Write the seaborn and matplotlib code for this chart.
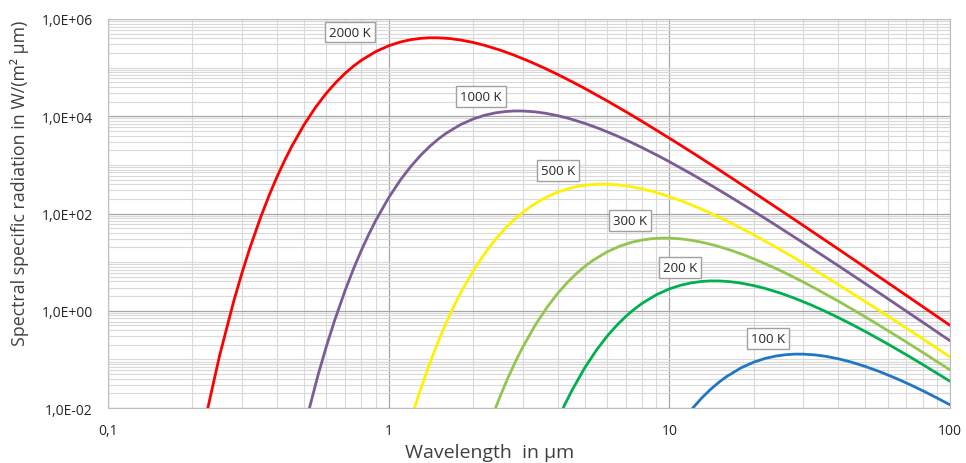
import matplotlib.pyplot as plt
import matplotlib.ticker as mticker
import pandas as pd
import seaborn as sns

# wavelength in µm and spectral exitance in W/(m² µm)
wl_2000 = [0.22, 0.25, 0.28, 0.3, 0.32, 0.35, 0.375, 0.4, 0.425, 0.45, 0.5, 0.55, 0.6, 0.65,
           0.7, 0.75, 0.8, 0.9, 1.0, 1.1, 1.2, 1.3, 1.4, 1.5, 1.65, 1.8, 2.0, 2.2, 2.5, 2.8,
           3.2, 3.6, 4, 4.5, 5, 6, 7, 8, 10, 12, 15, 20, 25, 30, 40, 50, 60, 70, 80, 100]
rad_2000 = [4.566e-3, 0.1219, 1.511, 5.931, 19.23, 84.35, 235.2, 564.9, 1202, 2313, 6753,
            15512, 29855, 50342, 76624, 107670, 142006, 214080, 281233, 336090, 375551,
            399720, 410530, 410540, 396030, 370720, 329495, 286850, 228452, 180330, 131660,
            97045, 72494, 51383, 37237, 20770, 12406, 7833, 3552.8, 1831, 800.7, 270.1,
            114.9, 56.82, 18.546, 7.738, 3.778, 2.057, 1.2136, 0.5017]

wl_1000 = [0.5, 0.56, 0.6, 0.64, 0.7, 0.75, 0.8, 0.85, 0.9, 1.0, 1.1, 1.2, 1.3, 1.4, 1.5,
           1.6, 1.8, 2.0, 2.2, 2.4, 2.6, 2.8, 3.0, 3.3, 3.6, 4.0, 4.4, 5.0, 5.6, 6.4, 7.2,
           8, 9, 10, 12, 14, 16, 20, 24, 30, 40, 50, 60, 80, 100]
rad_1000 = [3.809e-3, 0.04722, 0.1853, 0.6009, 2.636, 7.35, 17.65, 37.56, 72.28, 211.0,
            484.75, 933.0, 1573.2, 2394.5, 3364.7, 4437.7, 6690, 8788.5, 10503, 11736, 12491,
            12829, 12829, 12376, 11585, 10297, 8964, 7139, 5635, 4114, 3033, 2265, 1605.7,
            1163.7, 649.1, 387.7, 244.8, 111.0, 57.22, 25.02, 8.441, 3.591, 1.776, 0.5796,
            0.2418]

wl_500 = [1.2, 1.28, 1.4, 1.5, 1.6, 1.7, 1.8, 2.0, 2.2, 2.4, 2.6, 2.8, 3.0, 3.2, 3.6, 4.0,
          4.4, 4.8, 5.2, 5.6, 6.0, 6.6, 7.2, 8, 8.8, 10, 11.2, 12.8, 14.4, 16, 18, 20, 24,
          28, 32, 40, 48, 60, 80, 100]
rad_500 = [5.792e-3, 0.01878, 0.08237, 0.2297, 0.5517, 1.174, 2.259, 6.595, 15.15, 29.16,
           49.16, 74.83, 105.15, 138.68, 209.06, 274.6, 328.2, 366.75, 390.35, 400.91,
           400.92, 386.75, 362.03, 321.77, 280.13, 223.1, 176.1, 128.57, 94.77, 70.795,
           50.18, 36.36, 20.28, 12.115, 7.649, 3.4695, 1.788, 0.7819, 0.2638, 0.1122]

wl_300 = [2.333, 2.5, 2.667, 2.833, 3.0, 3.333, 3.667, 4.0, 4.333, 4.667, 5.0, 5.333, 6.0,
          6.667, 7.333, 8.0, 8.667, 9.333, 10.0, 11.0, 12.0, 13.33, 14.67, 16.67, 18.67,
          21.33, 24.0, 26.67, 30.0, 33.33, 40.0, 46.67, 53.33, 66.67, 80.0, 100]
rad_300 = [6.405e-3, 0.01786, 0.0429, 0.09128, 0.1756, 0.5128, 1.178, 2.2671, 3.8228, 5.8186,
           8.1762, 10.784, 16.257, 21.356, 25.522, 28.518, 30.354, 31.174, 31.175, 30.073,
           28.151, 25.021, 21.783, 17.348, 13.694, 9.998, 7.369, 5.505, 3.902, 2.8277,
           1.5772, 0.9421, 0.5948, 0.2698, 0.139, 0.0608]

wl_200 = [4, 4.25, 4.5, 5, 5.5, 6, 6.5, 7, 7.5, 8, 9, 10, 11, 12, 13, 14, 15, 16.5, 18, 20,
          22, 25, 28, 32, 36, 40, 45, 50, 60, 70, 80, 100]
rad_200 = [5.649e-3, 0.01202, 0.02313, 0.06753, 0.15512, 0.29855, 0.50342, 0.76624, 1.0767,
           1.42006, 2.1408, 2.81233, 3.3609, 3.75551, 3.9972, 4.1053, 4.1054, 3.9603, 3.7072,
           3.29495, 2.8685, 2.28452, 1.8033, 1.3166, 0.97045, 0.72494, 0.51383, 0.37237,
           0.2077, 0.12406, 0.07833, 0.035528]

wl_100 = [12, 13, 14, 15, 16, 18, 20, 22, 24, 26, 28, 30, 33, 36, 40, 44, 50, 56, 64, 72,
          80, 90, 100]
rad_100 = [9.33e-3, 0.015732, 0.023945, 0.033647, 0.044377, 0.0669, 0.087885, 0.10503,
           0.11736, 0.12491, 0.12829, 0.12829, 0.12376, 0.11585, 0.10297, 0.08964, 0.07139,
           0.05635, 0.04114, 0.03033, 0.022654, 0.016057, 0.011637]

temps = ["2000 K", "1000 K", "500 K", "300 K", "200 K", "100 K"]
colors = ["#FF0000", "#7B5C96", "#FFF200", "#92C650", "#00B050", "#1F77C4"]

series = [(wl_2000, rad_2000), (wl_1000, rad_1000), (wl_500, rad_500),
          (wl_300, rad_300), (wl_200, rad_200), (wl_100, rad_100)]
df = pd.concat(
    [pd.DataFrame({"wl": wl, "rad": rad, "T": t}) for t, (wl, rad) in zip(temps, series)],
    ignore_index=True,
)

sns.set_style("white")
plt.rcParams["font.family"] = ["Open Sans", "DejaVu Sans"]

fig = plt.figure(figsize=(9.66, 4.64), dpi=100)
ax = fig.add_axes([0.1118, 0.1185, 0.8716, 0.8384])

sns.lineplot(data=df, x="wl", y="rad", hue="T", hue_order=temps,
             palette=dict(zip(temps, colors)), estimator=None, sort=False,
             linewidth=2.0, legend=False, ax=ax)

ax.set_xscale("log")
ax.set_yscale("log")
ax.set_xlim(0.1, 100)
ax.set_ylim(1e-2, 1e6)

# ticks and grid in the spreadsheet style
ax.xaxis.set_major_locator(mticker.FixedLocator([0.1, 1, 10, 100]))
ax.xaxis.set_major_formatter(mticker.FixedFormatter(["0,1", "1", "10", "100"]))
ax.xaxis.set_minor_locator(mticker.LogLocator(base=10, subs=range(2, 10), numticks=20))
ax.yaxis.set_major_locator(mticker.FixedLocator([1e-2, 1e0, 1e2, 1e4, 1e6]))
ax.yaxis.set_major_formatter(
    mticker.FuncFormatter(lambda v, pos: f"{v:.1E}".replace(".", ",")))
ax.yaxis.set_minor_locator(mticker.LogLocator(base=10, subs=range(1, 10), numticks=20))
ax.xaxis.set_minor_formatter(mticker.NullFormatter())
ax.yaxis.set_minor_formatter(mticker.NullFormatter())

ax.grid(which="major", color="#A6A6A6", linewidth=0.9)
ax.grid(which="minor", color="#D9D9D9", linewidth=0.8)
ax.tick_params(axis="x", which="major", length=4, width=0.8, color="#A6A6A6",
               pad=7, labelsize=10, labelcolor="#262626")
ax.tick_params(axis="y", which="major", length=6, width=0.8, color="#A6A6A6",
               pad=5, labelsize=10, labelcolor="#262626")
ax.tick_params(which="minor", length=0)
for s in ax.spines.values():
    s.set_color("#BFBFBF")
    s.set_linewidth(0.8)

ax.set_xlabel("")
ax.set_ylabel("")
fig.text(20 / 966, 0.606, "Spectral specific radiation in W/(m² µm)", rotation=90,
         ha="center", va="center", fontsize=12.8, color="#404040")
fig.text(490 / 966, 6 / 464, "Wavelength  in µm", ha="center", va="baseline",
         fontsize=14, color="#404040")

# curve labels
label_pos = [(0.729, 5.4e5), (2.137, 2.6e4), (4.02, 782), (7.26, 73), (10.94, 7.9),
             (22.5, 0.273)]
for t, (lx, ly) in zip(temps, label_pos):
    ax.text(lx, ly, t, ha="center", va="center", fontsize=9.5, color="#262626",
            bbox=dict(boxstyle="square,pad=0.3", facecolor="white",
                      edgecolor="#A0A0A0", linewidth=1))

fig.savefig("out.png", dpi=100)
